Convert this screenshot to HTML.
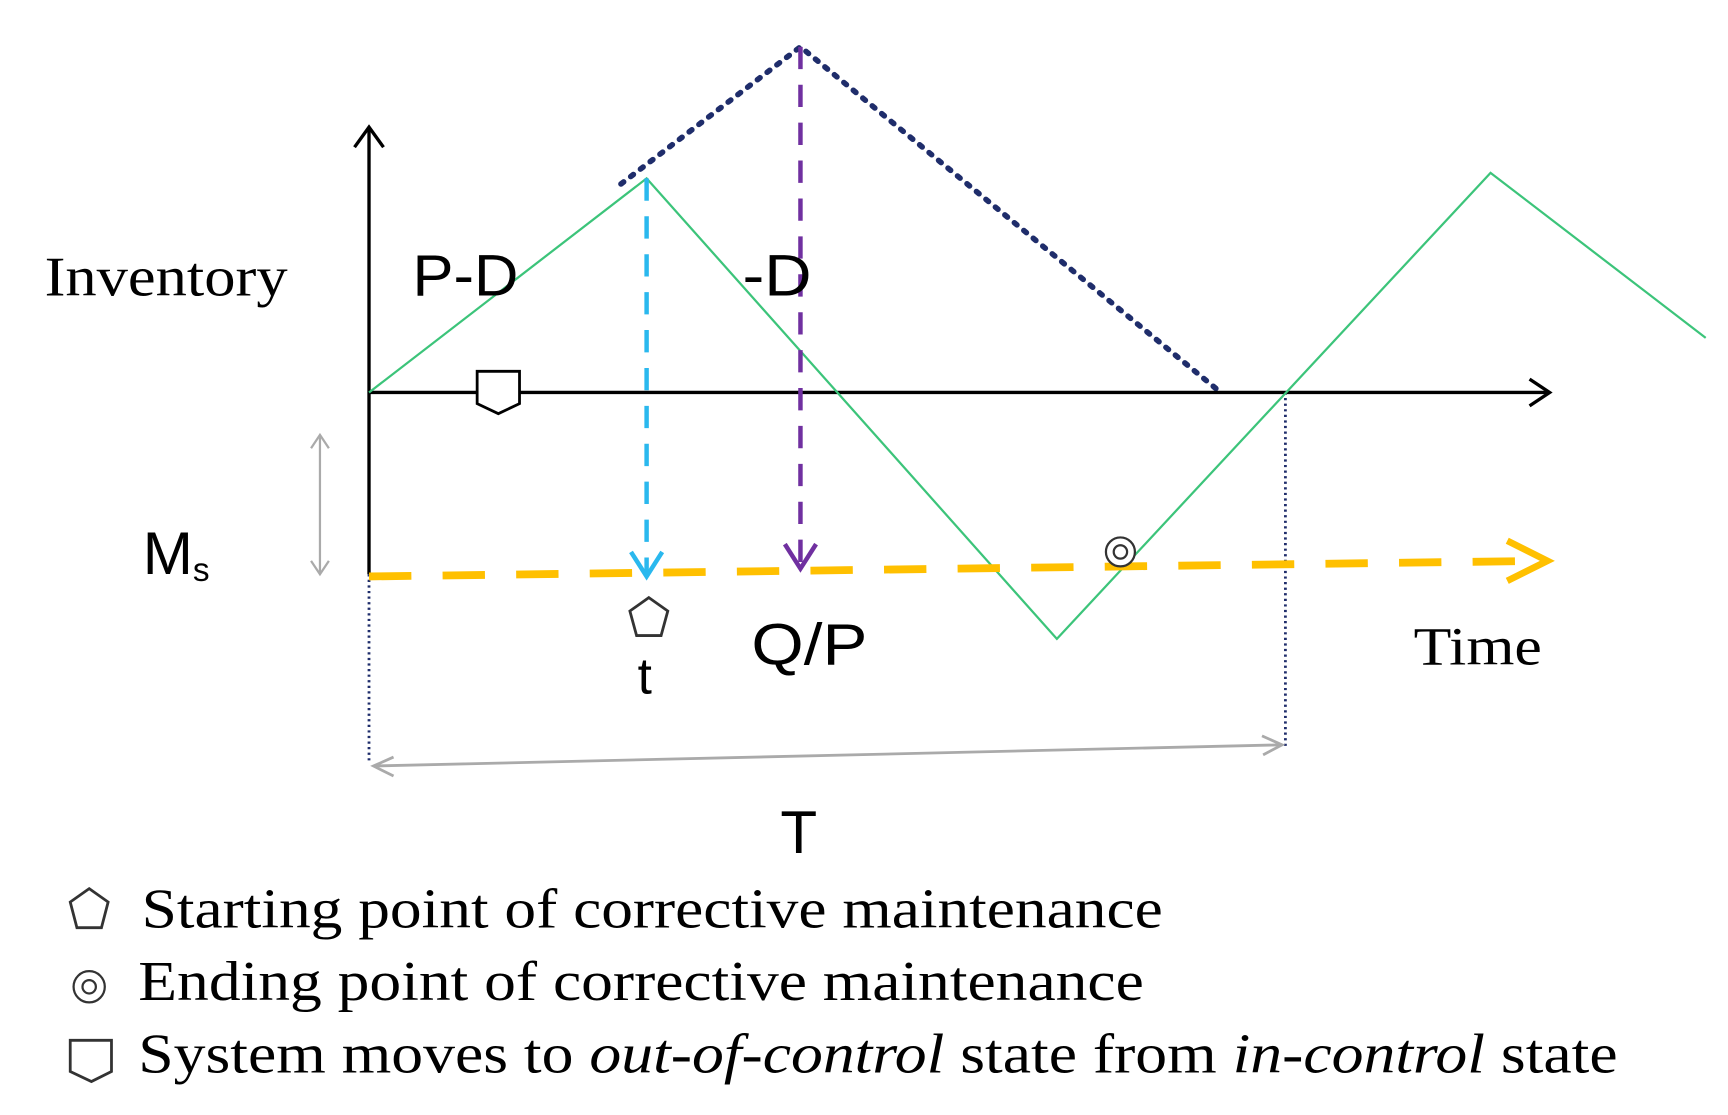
<!DOCTYPE html>
<html><head><style>
html,body{margin:0;padding:0;background:#fff;width:1728px;height:1115px;overflow:hidden}
svg{display:block}
.serif{font-family:"Liberation Serif",serif}
.sans{font-family:"Liberation Sans",sans-serif}
</style></head><body>
<svg width="1728" height="1115" viewBox="0 0 1550 1000" preserveAspectRatio="none" xmlns="http://www.w3.org/2000/svg">
<!-- dotted navy -->
<polyline points="557,165 718,42 1095,352" fill="none" stroke="#1f2d6b" stroke-width="5" stroke-dasharray="3,8" stroke-linecap="round"/>
<line x1="331" y1="515" x2="331" y2="685" stroke="#1f2d6b" stroke-width="2.5" stroke-dasharray="2,3"/>
<line x1="1153" y1="352" x2="1153" y2="670" stroke="#1f2d6b" stroke-width="2.5" stroke-dasharray="2,3"/>
<!-- axes -->
<line x1="331" y1="515" x2="331" y2="114" stroke="#000" stroke-width="3"/>
<path d="M318,132 L331,114 L344,132" fill="none" stroke="#000" stroke-width="3"/>
<line x1="331" y1="352" x2="1390" y2="352" stroke="#000" stroke-width="3"/>
<path d="M1372,340 L1390,352 L1372,364" fill="none" stroke="#000" stroke-width="3"/>
<!-- green -->
<polyline points="331,352 580,160 948,573 1337,155 1530,303" fill="none" stroke="#3cc47a" stroke-width="2"/>
<!-- cyan -->
<line x1="580" y1="160" x2="580" y2="515" stroke="#2ab8ee" stroke-width="4" stroke-dasharray="20,14"/>
<path d="M566,495 L580,517 L594,495" fill="none" stroke="#2ab8ee" stroke-width="4"/>
<!-- purple -->
<line x1="718" y1="42" x2="718" y2="510" stroke="#7030a0" stroke-width="4" stroke-dasharray="20,14"/>
<path d="M704,488 L718,510 L732,488" fill="none" stroke="#7030a0" stroke-width="4"/>
<!-- orange -->
<line x1="331" y1="517" x2="1385" y2="503" stroke="#ffc000" stroke-width="7" stroke-dasharray="38,28"/>
<path d="M1352,485 L1388,503 L1352,521" fill="none" stroke="#ffc000" stroke-width="6"/>
<!-- gray arrows -->
<line x1="287" y1="392" x2="287" y2="513" stroke="#aaa" stroke-width="2"/>
<path d="M279,402 L287,390 L295,402 M279,503 L287,515 L295,503" fill="none" stroke="#aaa" stroke-width="2"/>
<line x1="335" y1="687" x2="1150" y2="668" stroke="#aaa" stroke-width="2.5"/>
<path d="M353,679 L335,687 L353,696 M1132,660 L1150,668 L1133,677" fill="none" stroke="#aaa" stroke-width="2.5"/>
<!-- markers -->
<path d="M428,333 L466,333 L466,362 L447,371 L428,362 Z" fill="#fff" stroke="#000" stroke-width="2.5"/>
<path d="M582,536 L599,548 L593,570 L571,570 L565,548 Z" fill="#fff" stroke="#333" stroke-width="2.5"/>
<circle cx="1005" cy="495" r="13" fill="#fff" stroke="#333" stroke-width="2"/>
<circle cx="1005" cy="495" r="6" fill="none" stroke="#333" stroke-width="2"/>
<!-- labels -->
<text x="40" y="265" class="serif" font-size="50" textLength="218" lengthAdjust="spacingAndGlyphs">Inventory</text>
<text x="370" y="265" class="sans" font-size="52" textLength="95" lengthAdjust="spacingAndGlyphs">P-D</text>
<text x="666" y="265" class="sans" font-size="52" textLength="62" lengthAdjust="spacingAndGlyphs">-D</text>
<text x="128" y="515" class="sans" font-size="54">M<tspan font-size="30" dy="6">s</tspan></text>
<text x="572" y="622" class="sans" font-size="46">t</text>
<text x="674" y="596" class="sans" font-size="52" textLength="104" lengthAdjust="spacingAndGlyphs">Q/P</text>
<text x="1268" y="596" class="serif" font-size="48" textLength="115" lengthAdjust="spacingAndGlyphs">Time</text>
<text x="700" y="765" class="sans" font-size="54">T</text>
<!-- legend -->
<path d="M80,797 L97,809 L91,832 L69,832 L63,809 Z" fill="#fff" stroke="#333" stroke-width="2.5"/>
<circle cx="80" cy="885" r="14" fill="#fff" stroke="#333" stroke-width="2"/>
<circle cx="80" cy="885" r="6" fill="none" stroke="#333" stroke-width="2"/>
<path d="M63,933 L100,933 L100,961 L82,970 L63,961 Z" fill="#fff" stroke="#333" stroke-width="2.5"/>
<text x="127" y="832" class="serif" font-size="50" textLength="916" lengthAdjust="spacingAndGlyphs">Starting point of corrective maintenance</text>
<text x="124" y="897" class="serif" font-size="50" textLength="902" lengthAdjust="spacingAndGlyphs">Ending point of corrective maintenance</text>
<text x="124" y="962" class="serif" font-size="50" textLength="1327" lengthAdjust="spacingAndGlyphs">System moves to <tspan font-style="italic">out-of-control</tspan> state from <tspan font-style="italic">in-control</tspan> state</text>
</svg>
</body></html>
